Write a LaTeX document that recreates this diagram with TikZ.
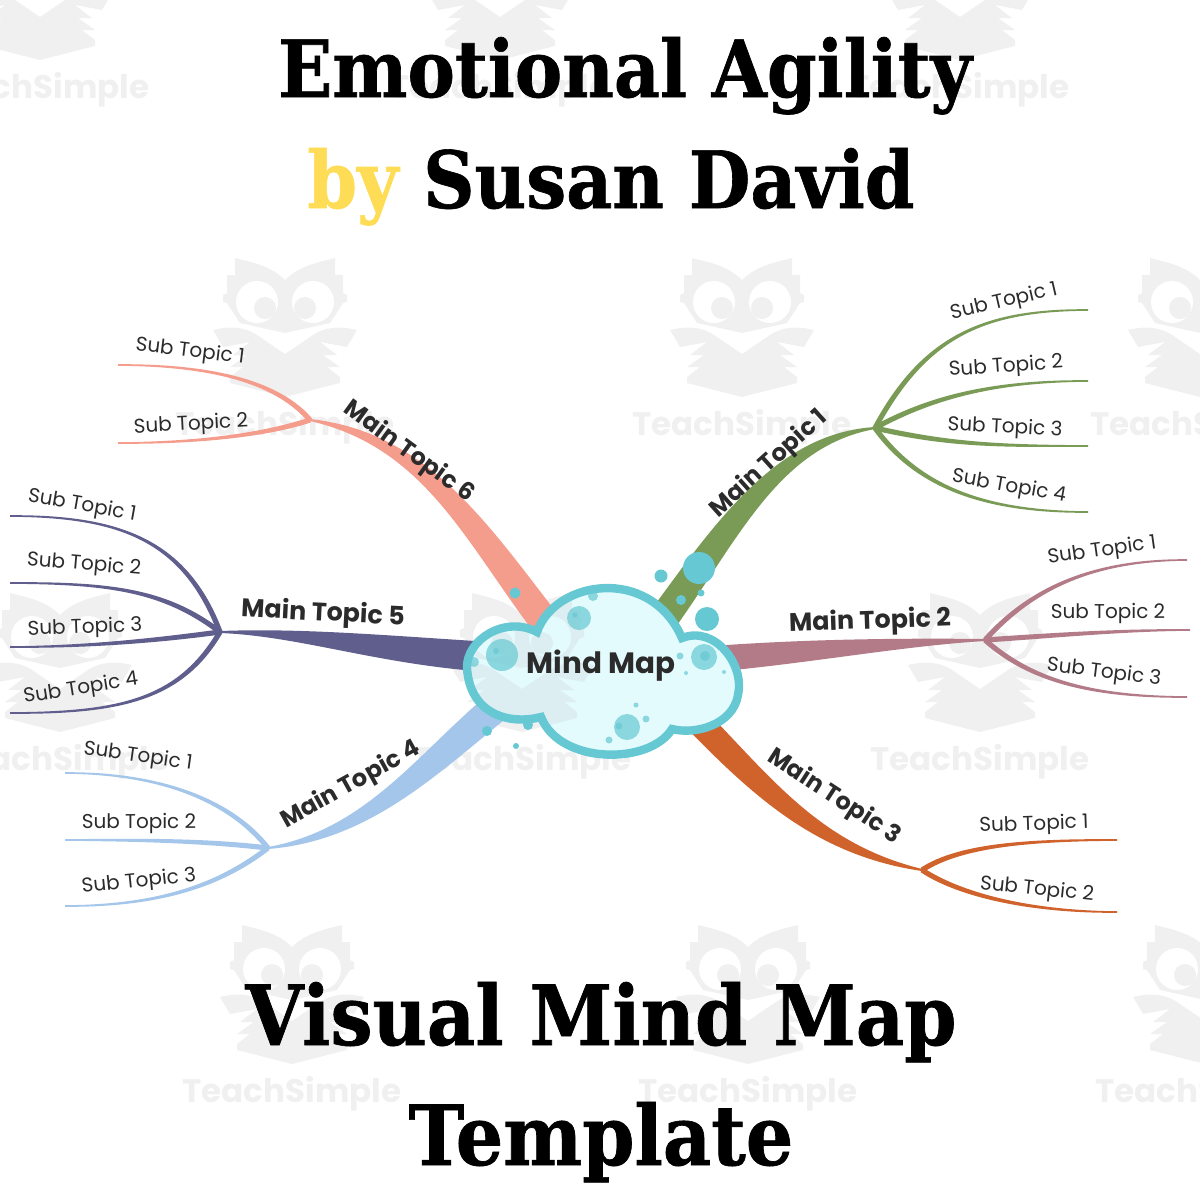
\documentclass[tikz,border=0pt]{standalone}
\usepackage{fontspec}
\usetikzlibrary{calc}
\setmainfont{Poppins}
\newfontfamily\titlefont[FakeStretch=0.9,BoldFeatures={FakeBold=0.8}]{DejaVu Serif}
\definecolor{branchgreen}{HTML}{7A9B56}
\definecolor{branchrose}{HTML}{B27B87}
\definecolor{branchorange}{HTML}{D0622C}
\definecolor{branchblue}{HTML}{A3C6EA}
\definecolor{branchpurple}{HTML}{5F5E8C}
\definecolor{branchsalmon}{HTML}{F59D8C}
\definecolor{cloudteal}{HTML}{66C8D3}
\definecolor{cloudfill}{HTML}{E4FBFD}
\definecolor{titleyellow}{HTML}{FFDC55}
\definecolor{markgray}{HTML}{F0F0F0}
\colorlet{markeye}{white}
\definecolor{labelgray}{HTML}{2B2B2B}
\newcommand{\branch}[8]{\fill[#1] ($(#2)!#6!90:(#3)$) .. controls ($(#3)!#6!-90:(#2)$) and ($(#4)!#7!90:(#5)$) .. ($(#5)!#8!-90:(#4)$)
  -- ($(#5)!#8!90:(#4)$) .. controls ($(#4)!#7!-90:(#5)$) and ($(#3)!#6!90:(#2)$) .. ($(#2)!#6!-90:(#3)$) -- cycle;}
\newcommand{\subbranch}[5]{\branch{#1}{#2}{#3}{#4}{#5}{1.3pt}{0.7pt}{0.4pt}}
\newcommand{\cloudpath}{(467,668) .. controls (466,640) and (505,615) .. (537,632)
  .. controls (555,580) and (650,565) .. (682,638)
  .. controls (715,625) and (745,665) .. (738,695)
  .. controls (733,725) and (695,735) .. (672,729)
  .. controls (650,765) and (560,765) .. (541,717)
  .. controls (510,725) and (470,715) .. (467,668) -- cycle}
\tikzset{
  title/.style={font=\titlefont\bfseries\fontsize{39.5}{40}\selectfont, anchor=base, inner sep=0pt},
  bigtitle/.style={title, font=\titlefont\bfseries\fontsize{41.5}{42}\selectfont},
  subtopic/.style={font=\fontsize{10}{12}\selectfont, text=labelgray, inner sep=0pt},
  maintopic/.style={font=\bfseries\fontsize{12.7}{14}\selectfont, text=labelgray, inner sep=0pt},
  bentopic/.style={maintopic, font=\bfseries\fontsize{12}{14}\selectfont},
  watermark/.style={font=\bfseries\fontsize{16.3}{20}\selectfont, text=markgray, inner sep=0pt},
  bubble/.style={fill=cloudteal, opacity=0.7},
  spot/.style={fill=cloudteal},
  owl/.pic={
    \foreach \s in {-1,1} {
      \begin{scope}[xscale=\s]
        \fill[markgray] (-50,-72) .. controls (-35,-68) and (-15,-65) .. (0,-50) -- (0,3) -- (-45,-7) -- (-58,-27) -- (-62,-28) -- (-62,-35) -- (-58,-37) -- (-58,-55) -- (-50,-55) -- cycle;
        \fill[markgray] (-72,0) .. controls (-55,-4) and (-40,-4) .. (-25,7) -- (0,24) -- (0,67) -- (-55,53) -- (-55,47) -- (-42,37) -- (-55,37) -- (-38,25) -- (-52,25) -- (-35,12) -- (-62,17) -- cycle;
        \fill[markeye] (-28,-28) circle (21);
        \fill[markgray] (-20,-22) circle (11);
      \end{scope}
    }
  }
}
\begin{document}
\begin{tikzpicture}[x=0.5pt,y=-0.5pt]
\useasboundingbox (0,0) rectangle (1200,1200);

% watermark
\foreach \wx/\wy in {40/88, 500/88, 960/88, 285/425, 742/425, 1200/425, 60/760, 522/760, 980/760, 292/1092, 748/1092, 1205/1092} {
  \pic at (\wx,\wy-95) {owl};
  \node[watermark] (mark\wx\wy) at (\wx,\wy+2) {TeachSimple};
}

\coordinate (hub1) at (875,428);
\coordinate (hub2) at (985,640);
\coordinate (hub3) at (922,870);
\coordinate (hub4) at (268,848);
\coordinate (hub5) at (220,632);
\coordinate (hub6) at (310,420);
\coordinate (root1) at (655,630);
\coordinate (root2) at (700,660);
\coordinate (root3) at (695,718);
\coordinate (root4) at (505,700);
\coordinate (root5) at (490,657);
\coordinate (root6) at (555,635);

% main branches
\branch{branchgreen}{root1}{725,535}{775,440}{hub1}{7.5pt}{3.5pt}{0.5pt}
\branch{branchrose}{root2}{800,652}{900,642}{hub2}{6.5pt}{2pt}{0.5pt}
\branch{branchorange}{root3}{765,790}{820,850}{hub3}{6.5pt}{3pt}{0.5pt}
\branch{branchblue}{root4}{430,760}{370,835}{hub4}{7.5pt}{3pt}{0.5pt}
\branch{branchpurple}{root5}{380,650}{300,632}{hub5}{7.5pt}{2pt}{0.5pt}
\branch{branchsalmon}{root6}{480,540}{430,440}{hub6}{7.5pt}{4pt}{0.5pt}

% sub branches
\coordinate (end11) at (1088,310);
\coordinate (end12) at (1088,381);
\coordinate (end13) at (1088,446);
\coordinate (end14) at (1088,512);
\subbranch{branchgreen}{hub1}{925,335}{985,310}{end11}
\subbranch{branchgreen}{hub1}{935,395}{1000,381}{end12}
\subbranch{branchgreen}{hub1}{950,445}{1000,446}{end13}
\subbranch{branchgreen}{hub1}{920,490}{990,512}{end14}
\coordinate (end21) at (1187,560);
\coordinate (end22) at (1190,630);
\coordinate (end23) at (1187,697);
\subbranch{branchrose}{hub2}{1030,590}{1090,560}{end21}
\subbranch{branchrose}{hub2}{1060,635}{1120,630}{end22}
\subbranch{branchrose}{hub2}{1030,680}{1090,697}{end23}
\coordinate (end31) at (1117,840);
\coordinate (end32) at (1117,912);
\subbranch{branchorange}{hub3}{960,845}{1030,840}{end31}
\subbranch{branchorange}{hub3}{960,895}{1030,912}{end32}
\coordinate (end41) at (65,773);
\coordinate (end42) at (65,840);
\coordinate (end43) at (65,906);
\subbranch{branchblue}{hub4}{230,800}{160,773}{end41}
\subbranch{branchblue}{hub4}{200,840}{130,840}{end42}
\subbranch{branchblue}{hub4}{220,885}{160,906}{end43}
\coordinate (end51) at (10,516);
\coordinate (end52) at (10,583);
\coordinate (end53) at (10,647);
\coordinate (end54) at (10,713);
\subbranch{branchpurple}{hub5}{185,540}{120,516}{end51}
\subbranch{branchpurple}{hub5}{165,590}{110,583}{end52}
\subbranch{branchpurple}{hub5}{160,640}{90,647}{end53}
\subbranch{branchpurple}{hub5}{180,700}{120,713}{end54}
\coordinate (end61) at (118,365);
\coordinate (end62) at (118,443);
\subbranch{branchsalmon}{hub6}{280,385}{220,365}{end61}
\subbranch{branchsalmon}{hub6}{280,430}{220,443}{end62}

% cloud
\fill[cloudfill] \cloudpath;
\begin{scope}
  \clip \cloudpath;
  \definecolor{markgray}{HTML}{DCEEF1}
  \colorlet{markeye}{cloudfill}
  \pic at (522,665) {owl};
\end{scope}
\draw[cloudteal, line width=4.2pt] \cloudpath;
\foreach \bx/\by/\br in {502/655/16, 496/651/3, 579/618/12, 575/615/2.5, 593/596/5, 704/657/13, 705/656/5, 627/727/13, 619/726/3.5, 680/656/3.5, 724/672/2, 686/673/2, 636/705/2.5, 646/719/3.5, 609/740/3.5, 474/662/5}
  \fill[bubble] (\bx,\by) circle (\br);
\foreach \bx/\by/\br in {699/568/16, 661/576/6.5, 681/600/5, 701/593/3.5, 707/619/12, 515/593/5.5, 528/725/5, 487/731/5, 516/746/3}
  \fill[spot] (\bx,\by) circle (\br);

% titles
\node[title] (titlea) at (625,97) {Emotional Agility};
\node[title] (titleb) at (611,208) {\textcolor{titleyellow}{by} Susan David};
\node[bigtitle] (titlec) at (601,1045) {Visual Mind Map};
\node[bigtitle] (titled) at (601,1165) {Template};

\node[font=\bfseries\fontsize{14.7}{16}\selectfont, text=labelgray, inner sep=0pt] (mindmap) at (601,666) {Mind Map};

% main labels
\node[bentopic, rotate=42] (main1) at (769,464) {Main Topic 1};
\node[maintopic, rotate=2] (main2) at (870,622) {Main Topic 2};
\node[bentopic, rotate=-33] (main3) at (834,797) {Main Topic 3};
\node[bentopic, rotate=29] (main4) at (351,785) {Main Topic 4};
\node[maintopic, rotate=-3] (main5) at (323,614) {Main Topic 5};
\node[bentopic, rotate=-36] (main6) at (409,452) {Main Topic 6};

% sub labels
\node[subtopic, rotate=13] (sub11) at (1004,302) {Sub Topic 1};
\node[subtopic, rotate=4] (sub12) at (1006,367) {Sub Topic 2};
\node[subtopic, rotate=-3] (sub13) at (1005,428) {Sub Topic 3};
\node[subtopic, rotate=-10] (sub14) at (1009,487) {Sub Topic 4};
\node[subtopic, rotate=8] (sub21) at (1102,551) {Sub Topic 1};
\node[subtopic] (sub22) at (1108,613) {Sub Topic 2};
\node[subtopic, rotate=-7] (sub23) at (1104,673) {Sub Topic 3};
\node[subtopic, rotate=2] (sub31) at (1034,825) {Sub Topic 1};
\node[subtopic, rotate=-6] (sub32) at (1037,890) {Sub Topic 2};
\node[subtopic, rotate=-8] (sub41) at (138,757) {Sub Topic 1};
\node[subtopic] (sub42) at (139,823) {Sub Topic 2};
\node[subtopic, rotate=6] (sub43) at (139,882) {Sub Topic 3};
\node[subtopic, rotate=-10] (sub51) at (82,506) {Sub Topic 1};
\node[subtopic, rotate=-5] (sub52) at (84,565) {Sub Topic 2};
\node[subtopic, rotate=2] (sub53) at (85,628) {Sub Topic 3};
\node[subtopic, rotate=9] (sub54) at (81,689) {Sub Topic 4};
\node[subtopic, rotate=-7] (sub61) at (190,352) {Sub Topic 1};
\node[subtopic, rotate=3] (sub62) at (191,425) {Sub Topic 2};
\end{tikzpicture}
\end{document}
